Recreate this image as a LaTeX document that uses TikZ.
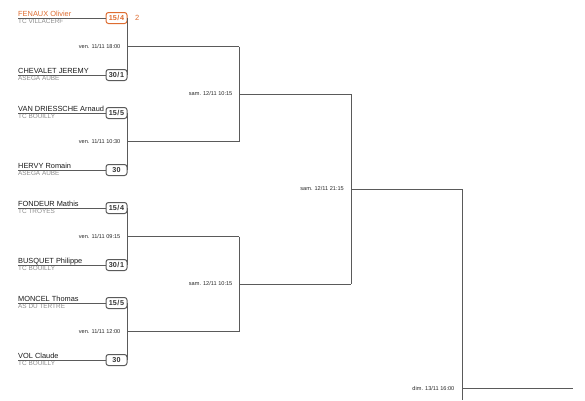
\documentclass[tikz,border=0pt]{standalone}
\usepackage{fontspec}
\setmainfont{Liberation Sans}
\definecolor{win}{RGB}{222,108,48}
\definecolor{lin}{RGB}{90,90,90}
\definecolor{clubgray}{RGB}{140,140,140}
\newcommand\seedsep{\kern0.6pt/\kern0.6pt}
\begin{document}
\begin{tikzpicture}[x=1pt,y=-1pt,
  pname/.style={anchor=base west,inner sep=0pt,font=\fontsize{7.4}{8}\selectfont,text=black!90},
  pclub/.style={anchor=base west,inner sep=0pt,font=\fontsize{6.4}{7}\selectfont,text=clubgray},
  seed/.style={draw=lin,line width=1pt,rounded corners=2.5pt,minimum width=21pt,minimum height=11pt,inner sep=0pt,font=\fontsize{7.2}{8}\selectfont\bfseries,text=black!80},
  seedwin/.style={seed,draw=win,text=win},
  dateLbl/.style={anchor=east,inner sep=0pt,font=\fontsize{5.6}{6}\selectfont,text=black!85},
  pline/.style={draw=lin,line width=1pt},
  bline/.style={draw=lin,line width=0.9pt}]
\useasboundingbox (0,0) rectangle (585,400);

% players
\coordinate (a1) at (18,18);
\node[seedwin] (b1) at (116.5,18) {15\seedsep 4};
\node[pname,text=win] (n1) at (18,16.5) {FENAUX Olivier};
\node[pclub] (c1) at (18,23.5) {TC VILLACERF};
\node[anchor=west,inner sep=0pt,font=\fontsize{7.5}{8}\selectfont,text=win] (sc) at (135,17.5) {2};

\foreach \i/\y/\nm/\cl/\sd in {
  2/75/CHEVALET JEREMY/ASEGA AUBE/30\seedsep 1,
  3/113/VAN DRIESSCHE Arnaud/TC BOUILLY/15\seedsep 5,
  4/170/HERVY Romain/ASEGA AUBE/30,
  5/208/FONDEUR Mathis/TC TROYES/15\seedsep 4,
  6/265/BUSQUET Philippe/TC BOUILLY/30\seedsep 1,
  7/303/MONCEL Thomas/AS DU TERTRE/15\seedsep 5,
  8/360/VOL Claude/TC BOUILLY/30}{
  \coordinate (a\i) at (18,\y);
  \node[seed] (b\i) at (116.5,\y) {\sd};
  \node[pname] (n\i) at (18,\y-1.5) {\nm};
  \node[pclub] (c\i) at (18,\y+5.5) {\cl};
}
\foreach \i in {1,...,8}{\draw[pline] (a\i) -- (b\i);}

% round 1 joins
\coordinate (m1) at (127,46.5);
\coordinate (m2) at (127,141.5);
\coordinate (m3) at (127,236.5);
\coordinate (m4) at (127,331.5);
\coordinate (q1) at (239,46.5);
\coordinate (q2) at (239,141.5);
\coordinate (q3) at (239,236.5);
\coordinate (q4) at (239,331.5);
\draw[bline] (b1.east) -- (b2.east);
\draw[bline] (b3.east) -- (b4.east);
\draw[bline] (b5.east) -- (b6.east);
\draw[bline] (b7.east) -- (b8.east);
\draw[bline] (m1) -- (q1);
\draw[bline] (m2) -- (q2);
\draw[bline] (m3) -- (q3);
\draw[bline] (m4) -- (q4);
\node[dateLbl] (d1) at (120.5,46.5) {ven. 11/11 18:00};
\node[dateLbl] (d2) at (120.5,141.5) {ven. 11/11 10:30};
\node[dateLbl] (d3) at (120.5,236.5) {ven. 11/11 09:15};
\node[dateLbl] (d4) at (120.5,331.5) {ven. 11/11 12:00};

% round 2
\coordinate (s1) at (239,94);
\coordinate (s2) at (239,284);
\coordinate (t1) at (351,94);
\coordinate (t2) at (351,284);
\draw[bline] (q1) -- (q2);
\draw[bline] (q3) -- (q4);
\draw[bline] (s1) -- (t1);
\draw[bline] (s2) -- (t2);
\node[dateLbl] (e1) at (232.5,93.5) {sam. 12/11 10:15};
\node[dateLbl] (e2) at (232.5,283.5) {sam. 12/11 10:15};

% round 3
\coordinate (u) at (351,189);
\coordinate (v1) at (462,189);
\draw[bline] (t1) -- (t2);
\draw[bline] (u) -- (v1);
\node[dateLbl] (f1) at (344,188.5) {sam. 12/11 21:15};

% final
\coordinate (v2) at (462,400);
\coordinate (w) at (462,388);
\coordinate (z) at (573,388);
\draw[bline] (v1) -- (v2);
\draw[bline] (w) -- (z);
\node[dateLbl] (g1) at (454.5,388) {dim. 13/11 16:00};
\end{tikzpicture}
\end{document}
